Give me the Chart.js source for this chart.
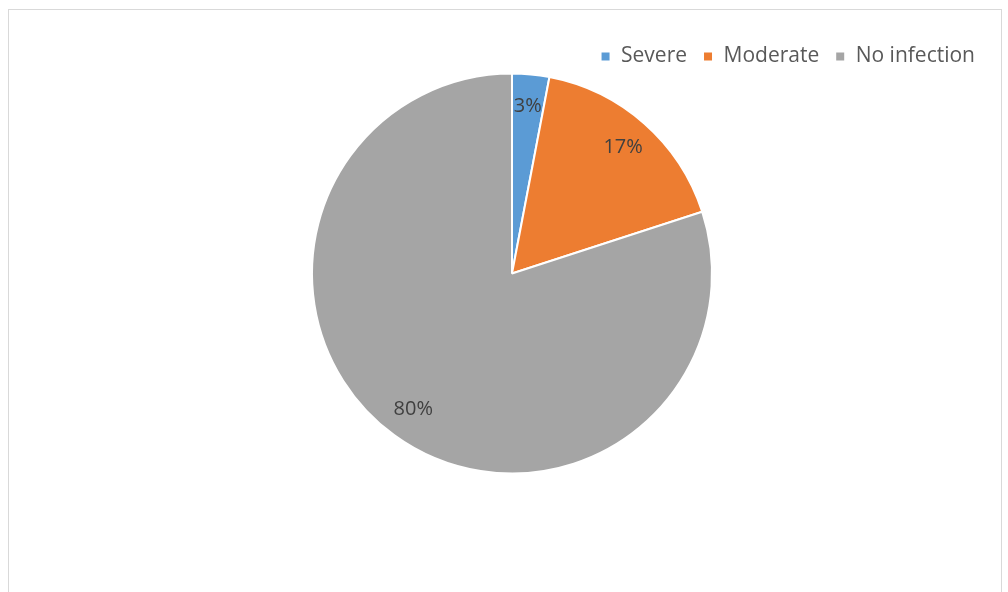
<!DOCTYPE html>
<html lang="en">
<head>
    <meta charset="UTF-8">
    <title>Infection severity</title>
    <script src="https://cdn.jsdelivr.net/npm/chart.js"></script>
    <style>
        body {
            margin: 0;
            background: #fff;
            font-family: "Open Sans", Arial, sans-serif;
        }
        .wrap {
            position: relative;
            width: 1008px;
            height: 592px;
            overflow: hidden;
        }
        /* thin frame like the original chart area */
        .frame {
            position: absolute;
            left: 8px;
            top: 9px;
            width: 994px;
            height: 600px;
            border: 1px solid #d9d9d9;
            box-sizing: border-box;
        }
        canvas { position: absolute; left: 0; top: 0; }
    </style>
</head>
<body>
<div class="wrap">
    <div class="frame"></div>
    <canvas id="pie" width="1008" height="592"></canvas>
</div>

<script>
    var categories = ["Severe", "Moderate", "No infection"];
    var values = [3, 17, 80];
    var colors = ["#5B9BD5", "#ED7D31", "#A5A5A5"];

    // percentage labels drawn inside each slice
    var sliceLabels = {
        id: 'sliceLabels',
        afterDatasetsDraw: function(chart) {
            var ctx = chart.ctx;
            var meta = chart.getDatasetMeta(0);
            var total = values.reduce(function(a, b) { return a + b; }, 0);
            ctx.save();
            ctx.font = '20px "Open Sans", Arial, sans-serif';
            ctx.fillStyle = '#404040';
            ctx.textAlign = 'center';
            ctx.textBaseline = 'middle';
            meta.data.forEach(function(arc, i) {
                var p = arc.getProps(['x', 'y', 'startAngle', 'endAngle', 'outerRadius'], true);
                var mid = (p.startAngle + p.endAngle) / 2;
                var r = p.outerRadius * 0.84;
                var txt = Math.round(values[i] / total * 100) + '%';
                ctx.fillText(txt, p.x + Math.cos(mid) * r, p.y + Math.sin(mid) * r);
            });
            ctx.restore();
        }
    };

    var chart = new Chart(document.getElementById('pie'), {
        type: 'pie',
        data: {
            labels: categories,
            datasets: [{
                data: values,
                backgroundColor: colors,
                borderColor: '#ffffff',
                borderWidth: 2,
                radius: 200
            }]
        },
        options: {
            responsive: false,
            animation: false,
            layout: { padding: { left: 33, right: 17, top: 30, bottom: 122 } },
            plugins: {
                legend: {
                    position: 'top',
                    align: 'end',
                    labels: {
                        boxWidth: 10,
                        boxHeight: 10,
                        padding: 16,
                        color: '#595959',
                        font: { family: '"Open Sans", Arial, sans-serif', size: 21 }
                    }
                },
                tooltip: { enabled: false }
            }
        },
        plugins: [sliceLabels]
    });
</script>
</body>
</html>
